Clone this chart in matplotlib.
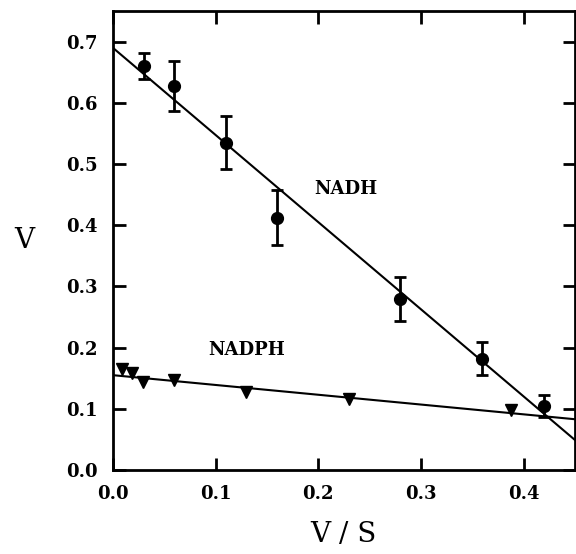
import matplotlib
matplotlib.use("Agg")
import matplotlib.pyplot as plt
import numpy as np

# NADH data (circles with error bars)
nadh_x = [0.03, 0.06, 0.11, 0.16, 0.28, 0.36, 0.42]
nadh_y = [0.660, 0.628, 0.535, 0.412, 0.280, 0.182, 0.105]
nadh_err = [0.021, 0.041, 0.043, 0.045, 0.036, 0.027, 0.018]
nadh_fit = [0.690, -1.424]   # intercept, slope

# NADPH data (down triangles)
nadph_x = [0.009, 0.019, 0.029, 0.06, 0.13, 0.23, 0.388]
nadph_y = [0.165, 0.158, 0.144, 0.147, 0.128, 0.116, 0.098]
nadph_fit = [0.155, -0.160]

xticks = [0.0, 0.1, 0.2, 0.3, 0.4]
yticks = [0.0, 0.1, 0.2, 0.3, 0.4, 0.5, 0.6, 0.7]

fig = plt.figure(figsize=(5.76, 5.54), dpi=100)
ax = fig.add_axes([0.196, 0.1516, 0.802, 0.8284])

xl = np.array([0.0, 0.45])
ax.plot(xl, nadh_fit[0] + nadh_fit[1] * xl, color="black", lw=1.5, zorder=2)
ax.plot(xl, nadph_fit[0] + nadph_fit[1] * xl, color="black", lw=1.5, zorder=2)

ax.errorbar(nadh_x, nadh_y, yerr=nadh_err, fmt="o", color="black", ms=8.5,
            elinewidth=2.0, capsize=4.5, capthick=2.0, zorder=3)
ax.plot(nadph_x, nadph_y, "v", color="black", ms=8.5, zorder=3)

ax.text(0.227, 0.46, "NADH", family="DejaVu Serif", weight="bold",
        fontsize=13, ha="center", va="center")
ax.text(0.13, 0.196, "NADPH", family="DejaVu Serif", weight="bold",
        fontsize=13, ha="center", va="center")

ax.set_xlim(0, 0.45)
ax.set_ylim(0, 0.75)
ax.set_xticks(xticks)
ax.set_yticks(yticks)
ax.set_xticklabels([f"{v:.1f}" for v in xticks])
ax.set_yticklabels([f"{v:.1f}" for v in yticks])
ax.tick_params(direction="in", length=9, width=2.0, top=True, right=True,
               labelsize=13, pad=11)
for lab in ax.get_xticklabels() + ax.get_yticklabels():
    lab.set_family("DejaVu Serif")
    lab.set_weight("bold")
for s in ax.spines.values():
    s.set_linewidth(2.0)

ax.set_xlabel("V / S", family="DejaVu Serif", fontsize=20, labelpad=13)
ax.set_ylabel("V", family="DejaVu Serif", fontsize=20, rotation=0,
              labelpad=30, va="center")

fig.savefig("out.png", dpi=100)
